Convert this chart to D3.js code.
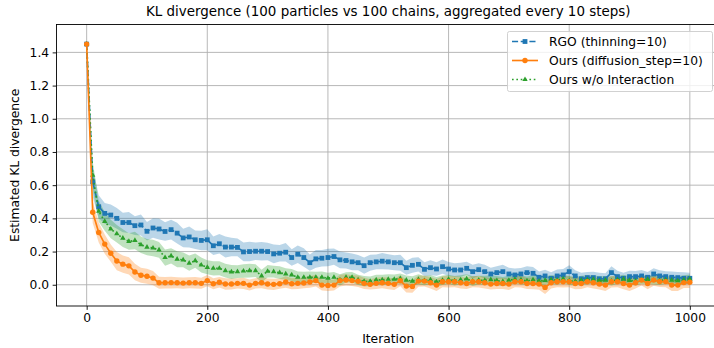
<!DOCTYPE html>
<html><head><meta charset="utf-8">
<script src="https://cdn.jsdelivr.net/npm/d3@7"></script>
<style>
body{margin:0;background:#fff}
svg{display:block}
text{font-family:"DejaVu Sans",sans-serif;fill:#000}
</style>
</head><body>
<svg id="c" width="714" height="348"></svg>
<script>
// ---------------- data ----------------
const iterations = [0,10,20,30,40,50,60,70,80,90,100,110,120,130,140,150,160,170,180,190,
200,210,220,230,240,250,260,270,280,290,300,310,320,330,340,350,360,370,380,390,
400,410,420,430,440,450,460,470,480,490,500,510,520,530,540,550,560,570,580,590,
600,610,620,630,640,650,660,670,680,690,700,710,720,730,740,750,760,770,780,790,
800,810,820,830,840,850,860,870,880,890,900,910,920,930,940,950,960,970,980,990,1000];

const rgoMean = [1.45,0.62,0.47,0.43,0.42,0.40,0.375,0.375,0.356,0.36,
0.322,0.342,0.336,0.321,0.332,0.311,0.282,0.288,0.271,0.267,
0.271,0.235,0.247,0.227,0.227,0.225,0.198,0.200,0.202,0.202,
0.200,0.186,0.190,0.196,0.164,0.184,0.164,0.133,0.156,0.160,
0.164,0.170,0.150,0.146,0.138,0.133,0.115,0.133,0.138,0.142,
0.138,0.133,0.133,0.103,0.117,0.123,0.093,0.103,0.095,0.109,
0.095,0.089,0.089,0.099,0.079,0.091,0.079,0.065,0.073,0.079,
0.065,0.059,0.065,0.073,0.069,0.045,0.053,0.039,0.053,0.059,
0.079,0.053,0.036,0.043,0.043,0.036,0.036,0.073,0.049,0.039,
0.049,0.049,0.053,0.045,0.065,0.053,0.049,0.045,0.043,0.039,
0.039];
const rgoStd = [0,0.09,0.07,0.063,0.063,0.063,0.059,0.063,0.056,0.063,
0.056,0.059,0.063,0.056,0.059,0.063,0.056,0.063,0.056,0.059,
0.063,0.056,0.059,0.063,0.056,0.053,0.056,0.059,0.053,0.056,
0.053,0.056,0.05,0.056,0.05,0.053,0.056,0.049,0.053,0.05,
0.053,0.049,0.05,0.048,0.05,0.046,0.049,0.048,0.045,0.049,
0.046,0.045,0.048,0.042,0.045,0.043,0.042,0.045,0.041,0.043,
0.042,0.041,0.043,0.039,0.042,0.039,0.041,0.038,0.039,0.042,
0.038,0.039,0.036,0.039,0.038,0.035,0.038,0.036,0.039,0.036,
0.038,0.035,0.036,0.034,0.035,0.036,0.034,0.038,0.035,0.034,
0.035,0.034,0.036,0.032,0.035,0.034,0.032,0.035,0.034,0.036,
0.034];

const oursMean = [1.45,0.437,0.315,0.245,0.19,0.143,0.124,0.114,0.077,0.057,
0.051,0.04,0.012,0.012,0.013,0.012,0.010,0.012,0.012,0.0085,
0.025,0.0065,0.015,0.0045,0.0045,0.0085,0.0085,-0.002,0.0085,0.0125,
0.0045,0.0024,0.0065,0.0166,0.0065,0.0085,0.0105,0.0166,0.025,-0.002,
-0.004,-0.002,0.025,0.029,0.025,0.021,0.0085,0.0024,0.0085,0.0125,
0.0085,0.0024,0.024,-0.008,-0.01,0.022,0.022,0.012,-0.002,0.018,
0.018,0.018,0.012,0.008,0.018,0.018,0.012,0.004,0.008,0.008,
0.004,0.018,0.018,0.008,0.008,0.004,-0.016,0.012,0.018,0.018,
0.018,0.008,0.008,0.018,0.012,0.004,-0.002,0.018,0.018,0.008,
-0.002,0.012,0.028,0.008,0.028,0.019,0.019,-0.002,-0.002,0.013,
0.015];
const oursStd = [0,0.065,0.06,0.058,0.052,0.055,0.052,0.052,0.05,0.045,
0.045,0.043,0.036,0.034,0.035,0.033,0.034,0.033,0.035,0.033,
0.034,0.033,0.031,0.034,0.033,0.031,0.034,0.033,0.031,0.034,
0.033,0.034,0.031,0.035,0.033,0.034,0.031,0.034,0.035,0.033,
0.034,0.033,0.035,0.034,0.033,0.035,0.034,0.031,0.034,0.033,
0.035,0.034,0.033,0.039,0.038,0.034,0.033,0.035,0.036,0.033,
0.034,0.033,0.035,0.034,0.033,0.034,0.035,0.033,0.034,0.033,
0.035,0.033,0.034,0.033,0.035,0.034,0.039,0.034,0.033,0.034,
0.033,0.035,0.034,0.033,0.034,0.033,0.036,0.034,0.033,0.035,
0.036,0.034,0.033,0.035,0.034,0.033,0.034,0.036,0.035,0.033,
0.034];

const woMean = [1.45,0.66,0.443,0.382,0.336,0.307,0.281,0.261,0.267,0.241,
0.227,0.221,0.21,0.164,0.174,0.154,0.150,0.130,0.145,0.119,
0.105,0.099,0.099,0.085,0.077,0.079,0.083,0.085,0.085,0.053,
0.081,0.079,0.073,0.065,0.059,0.045,0.045,0.045,0.045,0.045,
0.039,0.045,0.029,0.045,0.045,0.029,0.021,0.021,0.029,0.029,
0.033,0.033,0.037,0.028,0.022,0.032,0.025,0.030,0.018,0.027,
0.033,0.024,0.030,0.035,0.022,0.028,0.026,0.031,0.025,0.020,
0.027,0.033,0.029,0.024,0.030,0.022,0.026,0.031,0.028,0.035,
0.025,0.020,0.027,0.030,0.033,0.024,0.028,0.022,0.030,0.034,
0.026,0.023,0.029,0.032,0.027,0.025,0.030,0.028,0.024,0.030,
0.034];
const woStd = [0,0.084,0.063,0.056,0.056,0.053,0.053,0.05,0.053,0.049,
0.049,0.05,0.048,0.049,0.046,0.048,0.045,0.046,0.043,0.045,
0.042,0.043,0.042,0.041,0.042,0.039,0.041,0.042,0.039,0.038,
0.038,0.036,0.038,0.035,0.036,0.035,0.034,0.035,0.034,0.035,
0.034,0.032,0.034,0.031,0.032,0.031,0.032,0.029,0.031,0.032,
0.031,0.029,0.031,0.028,0.029,0.031,0.028,0.029,0.028,0.029,
0.028,0.029,0.027,0.028,0.029,0.027,0.028,0.027,0.028,0.027,
0.028,0.027,0.028,0.025,0.027,0.028,0.025,0.027,0.028,0.025,
0.027,0.025,0.027,0.028,0.025,0.027,0.025,0.027,0.025,0.027,
0.025,0.027,0.025,0.027,0.025,0.027,0.025,0.027,0.025,0.027,
0.028];

const xTickValues = [0,200,400,600,800,1000];
const yTickValues = [0.0,0.2,0.4,0.6,0.8,1.0,1.2,1.4];
const seriesNames = ["RGO (thinning=10)","Ours (diffusion_step=10)","Ours w/o Interaction"];
const titleText = "KL divergence (100 particles vs 100 chains, aggregated every 10 steps)";
const xLabel = "Iteration";
const yLabel = "Estimated KL divergence";

// ---------------- layout ----------------
const W = 714, H = 348;
const P = {left:56.5, right:720, top:24.5, bottom:306};
const FS = 12.3;
const x = d3.scaleLinear().domain([-50,1050]).range([P.left,P.right]);
const y = d3.scaleLinear().domain([-0.128,1.568]).range([P.bottom,P.top]);

const svg = d3.select("#c");
svg.append("rect").attr("width",W).attr("height",H).attr("fill","#fff");
svg.append("defs").append("clipPath").attr("id","clip")
  .append("rect").attr("x",P.left).attr("y",P.top)
  .attr("width",P.right-P.left).attr("height",P.bottom-P.top);

// grid
const grid = svg.append("g");
grid.selectAll("line.vx").data(xTickValues).join("line")
  .attr("x1",d=>x(d)).attr("x2",d=>x(d)).attr("y1",P.top).attr("y2",P.bottom)
  .attr("stroke","#b0b0b0").attr("stroke-width",0.9);
grid.selectAll("line.hy").data(yTickValues).join("line")
  .attr("y1",d=>y(d)).attr("y2",d=>y(d)).attr("x1",P.left).attr("x2",P.right)
  .attr("stroke","#b0b0b0").attr("stroke-width",0.9);

const series = [
  {name:seriesNames[0], mean:rgoMean, std:rgoStd, color:"#1f77b4", dash:"6.1,2.6", marker:"square"},
  {name:seriesNames[1], mean:oursMean, std:oursStd, color:"#ff7f0e", dash:null, marker:"circle"},
  {name:seriesNames[2], mean:woMean, std:woStd, color:"#2ca02c", dash:"1.65,2.7", marker:"triangle"}
];

const plotG = svg.append("g").attr("clip-path","url(#clip)");
const area = d3.area().x(d=>x(d.it)).y0(d=>y(d.m-d.s)).y1(d=>y(d.m+d.s));
const line = d3.line().x(d=>x(d.it)).y(d=>y(d.m));
series.forEach(s=>{
  s.pts = iterations.map((it,i)=>({it, m:s.mean[i], s:s.std[i]}));
});
// bands (below all lines)
series.forEach(s=>{
  plotG.append("path").datum(s.pts).attr("d",area)
    .attr("fill",s.color).attr("fill-opacity",0.3).attr("stroke","none");
});

function drawMarker(g, type, cx, cy, color){
  if(type==="circle"){
    g.append("circle").attr("cx",cx).attr("cy",cy).attr("r",2.7).attr("fill",color);
  } else if(type==="square"){
    g.append("rect").attr("x",cx-2.4).attr("y",cy-2.4).attr("width",4.8).attr("height",4.8).attr("fill",color);
  } else {
    const r=3.1;
    g.append("path").attr("d",`M${cx},${cy-r}L${cx+r*0.87},${cy+r*0.5}L${cx-r*0.87},${cy+r*0.5}Z`).attr("fill",color);
  }
}

// lines: RGO, w/o, Ours (orange on top)
[series[0],series[2],series[1]].forEach(s=>{
  const g = plotG.append("g");
  g.append("path").datum(s.pts).attr("d",line).attr("fill","none")
    .attr("stroke",s.color).attr("stroke-width",1.65)
    .attr("stroke-dasharray",s.dash).attr("stroke-linejoin","round");
  s.pts.forEach(p=>drawMarker(g, s.marker, x(p.it), y(p.m), s.color));
});

// spines
svg.append("rect").attr("x",P.left).attr("y",P.top).attr("width",P.right-P.left).attr("height",P.bottom-P.top)
  .attr("fill","none").attr("stroke","#000").attr("stroke-width",0.9);

// axes
const xAxis = svg.append("g").attr("transform",`translate(0,${P.bottom})`)
  .call(d3.axisBottom(x).tickValues(xTickValues).tickFormat(d3.format("d")).tickSize(3.85).tickPadding(3.5));
const yAxis = svg.append("g").attr("transform",`translate(${P.left},0)`)
  .call(d3.axisLeft(y).tickValues(yTickValues).tickFormat(d3.format(".1f")).tickSize(3.85).tickPadding(3.5));
[xAxis,yAxis].forEach(a=>{
  a.select(".domain").remove();
  a.selectAll("line").attr("stroke","#000").attr("stroke-width",0.9);
  a.selectAll("text").attr("font-family","DejaVu Sans").attr("font-size",FS).attr("fill","#000");
});

// labels
svg.append("text").attr("x",(P.left+P.right)/2).attr("y",16).attr("text-anchor","middle")
  .attr("font-size",13.45).text(titleText);
svg.append("text").attr("x",(P.left+P.right)/2).attr("y",343).attr("text-anchor","middle")
  .attr("font-size",FS).text(xLabel);
svg.append("text").attr("transform",`translate(18.5,${(P.top+P.bottom)/2}) rotate(-90)`)
  .attr("text-anchor","middle").attr("font-size",FS).text(yLabel);

// legend
const L = svg.append("g");
L.append("rect").attr("x",507.5).attr("y",31.5).attr("width",205).attr("height",60).attr("rx",2)
  .attr("fill","#fff").attr("fill-opacity",0.8).attr("stroke","#cccccc").attr("stroke-width",0.9);
series.forEach((s,i)=>{
  const cy = 41.5 + i*19;
  L.append("line").attr("x1",512).attr("x2",538).attr("y1",cy).attr("y2",cy)
    .attr("stroke",s.color).attr("stroke-width",1.65).attr("stroke-dasharray",s.dash);
  drawMarker(L, s.marker, 525, cy, s.color);
  L.append("text").attr("x",549).attr("y",cy).attr("dy","0.35em").attr("font-size",FS).text(s.name);
});
</script>
</body></html>
